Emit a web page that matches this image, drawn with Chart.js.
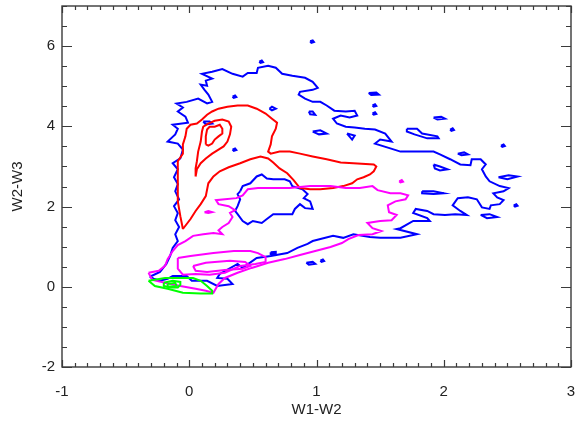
<!DOCTYPE html>
<html>
<head>
<meta charset="utf-8">
<script src="https://cdn.jsdelivr.net/npm/chart.js@4.4.1/dist/chart.umd.min.js"></script>
<style>
  html, body { margin: 0; padding: 0; background: #fff; }
</style>
</head>
<body>
<canvas id="cc" width="576" height="428"></canvas>
<script>
// contour rings in (W1-W2, W2-W3) space, each ring is a closed list of [x, y]
const blueContours = [
  [[-0.31,0.25],[-0.23,0.37],[-0.18,0.57],[-0.15,0.77],[-0.13,0.97],[-0.09,1.14],[-0.11,1.31],[-0.08,1.49],
   [-0.11,1.66],[-0.09,1.84],[-0.12,2.01],[-0.08,2.18],[-0.11,2.38],[-0.09,2.56],[-0.12,2.73],[-0.09,2.93],
   [-0.13,3.08],[-0.07,3.20],[-0.05,3.42],[-0.09,3.57],[-0.17,3.62],[-0.11,3.80],[-0.09,3.94],[-0.13,4.04],
   [-0.01,4.09],[-0.03,4.24],[-0.09,4.37],[-0.05,4.47],[-0.10,4.57],[-0.02,4.61],[0.07,4.69],[0.14,4.57],
   [0.18,4.61],[0.15,4.79],[0.12,4.91],[0.09,5.04],[0.14,5.01],[0.13,5.14],[0.18,5.19],[0.10,5.31],
   [0.18,5.36],[0.26,5.43],[0.34,5.31],[0.42,5.24],[0.46,5.33],[0.53,5.33],[0.54,5.46],[0.62,5.51],
   [0.68,5.46],[0.73,5.31],[0.81,5.26],[0.91,5.21],[0.97,5.11],[1.01,4.96],[0.97,4.91],[0.87,4.86],
   [0.86,4.79],[0.91,4.69],[0.97,4.61],[1.03,4.61],[1.08,4.52],[1.14,4.39],[1.23,4.37],[1.30,4.39],
   [1.32,4.27],[1.26,4.22],[1.19,4.27],[1.13,4.19],[1.16,4.07],[1.23,3.99],[1.30,3.97],[1.38,3.94],
   [1.46,3.92],[1.54,3.82],[1.59,3.62],[1.50,3.67],[1.46,3.57],[1.58,3.45],[1.66,3.37],[1.74,3.37],
   [1.81,3.37],[1.92,3.37],[1.97,3.30],[2.05,3.18],[2.13,3.05],[2.21,3.03],[2.22,3.18],[2.29,3.18],
   [2.33,3.05],[2.30,2.93],[2.33,2.75],[2.36,2.63],[2.44,2.51],[2.51,2.46],[2.47,2.38],[2.39,2.33],
   [2.42,2.23],[2.47,2.16],[2.44,2.06],[2.37,2.03],[2.36,1.94],[2.30,1.98],[2.26,2.18],[2.19,2.23],
   [2.11,2.21],[2.07,2.03],[2.13,1.89],[2.18,1.79],[2.09,1.81],[2.01,1.79],[1.92,1.81],[1.87,1.89],
   [1.78,1.94],[1.76,1.84],[1.87,1.71],[1.89,1.64],[1.76,1.64],[1.66,1.46],[1.63,1.44],[1.79,1.31],
   [1.66,1.22],[1.50,1.22],[1.42,1.24],[1.29,1.31],[1.21,1.22],[1.13,1.27],[0.97,1.14],[0.93,1.07],
   [0.85,0.97],[0.77,0.84],[0.64,0.77],[0.53,0.72],[0.42,0.47],[0.38,0.57],[0.24,0.32],[0.22,0.22],
   [0.30,0.20],[0.34,0.07],[0.22,0.02],[0.14,0.15],[0.02,0.15],[-0.02,0.27],[-0.13,0.27],[-0.17,0.20],
   [-0.23,0.15],[-0.28,0.20]],
  [[0.40,2.38],[0.42,2.51],[0.48,2.58],[0.53,2.75],[0.57,2.80],[0.61,2.70],[0.66,2.68],[0.75,2.68],
   [0.79,2.63],[0.81,2.51],[0.89,2.43],[0.93,2.31],[0.90,2.21],[0.95,2.13],[0.97,1.94],[0.91,1.96],
   [0.87,2.06],[0.83,1.94],[0.81,1.81],[0.71,1.81],[0.66,1.81],[0.61,1.69],[0.57,1.59],[0.50,1.64],
   [0.46,1.56],[0.42,1.64],[0.38,1.81],[0.36,1.89],[0.38,2.01],[0.40,2.18],[0.38,2.31]],
  [[0.95,6.12],[0.97,6.14],[0.98,6.10],[0.96,6.08]],
  [[0.34,4.74],[0.36,4.77],[0.37,4.73],[0.35,4.71]],
  [[0.63,4.44],[0.65,4.49],[0.68,4.44],[0.65,4.40]],
  [[0.11,4.12],[0.16,4.12],[0.18,4.07],[0.13,4.05]],
  [[0.34,3.42],[0.36,3.45],[0.37,3.41],[0.35,3.39]],
  [[0.55,5.61],[0.57,5.64],[0.58,5.60],[0.56,5.58]],
  [[1.41,4.83],[1.47,4.84],[1.49,4.79],[1.43,4.78]],
  [[1.44,4.52],[1.46,4.55],[1.47,4.51],[1.45,4.49]],
  [[1.44,4.32],[1.46,4.35],[1.47,4.31],[1.45,4.29]],
  [[0.94,4.37],[0.97,4.37],[0.99,4.29],[0.95,4.30]],
  [[0.97,3.87],[1.03,3.90],[1.08,3.82],[1.02,3.80]],
  [[1.24,3.82],[1.30,3.77],[1.28,3.67]],
  [[1.92,4.22],[1.98,4.24],[2.01,4.19],[1.95,4.17]],
  [[2.05,3.92],[2.07,3.95],[2.08,3.91],[2.06,3.89]],
  [[2.45,3.52],[2.47,3.55],[2.48,3.51],[2.46,3.49]],
  [[1.71,3.94],[1.79,3.94],[1.83,3.82],[1.95,3.75],[1.96,3.70],[1.87,3.70],[1.77,3.80],[1.71,3.87]],
  [[2.11,3.32],[2.16,3.35],[2.19,3.30],[2.14,3.28]],
  [[1.92,3.05],[1.97,3.00],[2.03,2.93],[1.97,2.90],[1.93,2.95]],
  [[2.43,2.73],[2.51,2.78],[2.58,2.75],[2.50,2.68]],
  [[1.83,2.38],[1.92,2.38],[2.00,2.33],[1.92,2.31],[1.83,2.33]],
  [[2.55,2.03],[2.57,2.06],[2.58,2.02],[2.56,2.00]],
  [[2.29,1.79],[2.36,1.81],[2.42,1.74],[2.34,1.71]],
  [[0.64,0.86],[0.68,0.87],[0.68,0.82],[0.64,0.82]],
  [[0.92,0.60],[0.97,0.62],[0.99,0.57],[0.94,0.55]],
  [[1.03,0.65],[1.05,0.68],[1.06,0.64],[1.04,0.62]]
];

const redContours = [
  [[-0.05,1.44],[-0.07,1.76],[-0.09,2.13],[-0.09,2.51],[-0.09,2.88],[-0.09,3.13],[-0.05,3.32],[-0.05,3.55],
   [-0.03,3.75],[-0.02,3.94],[0.01,4.04],[0.06,4.07],[0.10,4.17],[0.14,4.29],[0.18,4.37],[0.23,4.44],
   [0.30,4.49],[0.38,4.52],[0.46,4.52],[0.53,4.44],[0.60,4.32],[0.65,4.19],[0.69,4.09],[0.68,3.94],
   [0.65,3.75],[0.64,3.55],[0.62,3.37],[0.64,3.32],[0.71,3.37],[0.79,3.37],[0.87,3.32],[0.97,3.25],
   [1.08,3.18],[1.19,3.10],[1.29,3.08],[1.45,3.05],[1.47,3.00],[1.45,2.88],[1.42,2.80],[1.37,2.73],
   [1.32,2.68],[1.28,2.58],[1.21,2.51],[1.13,2.46],[1.03,2.43],[0.95,2.43],[0.87,2.46],[0.82,2.66],
   [0.77,2.83],[0.71,2.95],[0.66,3.10],[0.62,3.20],[0.56,3.25],[0.48,3.18],[0.40,3.08],[0.31,2.98],
   [0.24,2.88],[0.19,2.75],[0.15,2.58],[0.13,2.26],[0.09,2.06],[0.05,1.89],[0.01,1.69]],
  [[0.05,2.75],[0.05,2.95],[0.06,3.13],[0.07,3.37],[0.09,3.62],[0.10,3.87],[0.11,3.99],[0.15,4.07],
   [0.20,4.14],[0.26,4.17],[0.31,4.12],[0.33,3.99],[0.32,3.80],[0.30,3.62],[0.27,3.50],[0.23,3.42],
   [0.18,3.32],[0.13,3.20],[0.09,3.08],[0.06,2.93]],
  [[0.13,3.55],[0.13,3.75],[0.14,3.92],[0.16,3.99],[0.20,3.99],[0.24,4.04],[0.26,3.94],[0.26,3.82],
   [0.23,3.75],[0.20,3.67],[0.18,3.57],[0.15,3.52]]
];

const magentaContours = [
  [[-0.32,0.35],[-0.24,0.40],[-0.19,0.52],[-0.17,0.69],[-0.13,0.89],[-0.09,1.04],[-0.03,1.14],[0.03,1.27],
   [0.11,1.31],[0.19,1.34],[0.26,1.31],[0.23,1.41],[0.26,1.49],[0.31,1.59],[0.34,1.74],[0.32,1.84],
   [0.36,1.91],[0.31,2.01],[0.23,2.06],[0.21,2.16],[0.28,2.18],[0.37,2.21],[0.42,2.28],[0.46,2.43],
   [0.54,2.46],[0.68,2.46],[0.79,2.46],[0.95,2.51],[1.11,2.51],[1.23,2.46],[1.34,2.46],[1.44,2.51],
   [1.48,2.41],[1.58,2.33],[1.66,2.33],[1.72,2.28],[1.70,2.18],[1.62,2.13],[1.56,2.03],[1.57,1.86],
   [1.63,1.79],[1.59,1.66],[1.50,1.64],[1.40,1.59],[1.44,1.46],[1.51,1.39],[1.44,1.31],[1.33,1.29],
   [1.25,1.19],[1.20,1.09],[1.11,0.99],[0.99,0.89],[0.87,0.79],[0.75,0.69],[0.62,0.60],[0.49,0.47],
   [0.38,0.35],[0.28,0.22],[0.23,0.07],[0.19,-0.15],[0.13,-0.10],[0.05,-0.05],[-0.07,0.02],[-0.19,0.10],
   [-0.29,0.17]],
  [[-0.09,0.72],[0.01,0.77],[0.19,0.84],[0.35,0.89],[0.48,0.89],[0.54,0.84],[0.60,0.74],[0.60,0.62],
   [0.52,0.57],[0.40,0.52],[0.28,0.35],[0.16,0.30],[0.05,0.32],[-0.05,0.30],[-0.09,0.45]],
  [[0.03,0.52],[0.13,0.60],[0.20,0.62],[0.32,0.65],[0.44,0.62],[0.48,0.52],[0.42,0.45],[0.28,0.42],
   [0.14,0.37],[0.05,0.40]],
  [[0.12,1.86],[0.15,1.89],[0.18,1.86],[0.15,1.84]],
  [[1.65,2.63],[1.67,2.66],[1.68,2.62],[1.66,2.60]]
];

const greenContours = [
  [[-0.32,0.15],[-0.19,0.22],[-0.05,0.22],[0.03,0.22],[0.09,0.15],[0.14,0.02],[0.18,-0.10],[0.18,-0.17],
   [0.09,-0.17],[-0.05,-0.15],[-0.17,-0.05],[-0.27,0.02]],
  [[-0.20,0.10],[-0.13,0.15],[-0.07,0.12],[-0.07,0.05],[-0.09,-0.02],[-0.15,-0.02],[-0.20,0.02]],
  [[-0.17,0.07],[-0.11,0.10],[-0.10,0.02],[-0.17,0.00]]
];

const xTickLabels = [-1, 0, 1, 2, 3];
const yTickLabels = [-2, 0, 2, 4, 6];

const axisColor = '#3a3a3a';
const textColor = '#222';
const fontFamily = "'Liberation Sans', Arial, Helvetica, sans-serif";

function ringDatasets(rings, color, order) {
  return rings.map(ring => ({
    data: ring.concat([ring[0]]).map(p => ({ x: p[0], y: p[1] })),
    showLine: true,
    borderColor: color,
    borderWidth: 2,
    pointRadius: 0,
    fill: false,
    tension: 0,
    order: order
  }));
}

// fixed axis boxes, no extra room reserved for label overhang
function fixBox(size, horizontal) {
  return s => {
    if (horizontal) s.height = size; else s.width = size;
    s.paddingLeft = s.paddingRight = s.paddingTop = s.paddingBottom = 0;
  };
}

// IDL-style frame with inward ticks on all four sides
const frameTicks = {
  id: 'frameTicks',
  afterDatasetsDraw(chart) {
    const { ctx, chartArea: a, scales: { x, y } } = chart;
    ctx.save();
    ctx.strokeStyle = axisColor;
    ctx.lineWidth = 1.4;
    ctx.strokeRect(a.left, a.top, a.right - a.left, a.bottom - a.top);
    ctx.beginPath();
    for (let i = 0; i <= 40; i++) {
      const px = Math.round(x.getPixelForValue(-1 + i * 0.1)) + 0.5;
      const len = i % 10 === 0 ? 7 : 4;
      ctx.moveTo(px, a.bottom); ctx.lineTo(px, a.bottom - len);
      ctx.moveTo(px, a.top); ctx.lineTo(px, a.top + len);
    }
    for (let i = 0; i <= 18; i++) {
      const py = Math.round(y.getPixelForValue(-2 + i * 0.5)) + 0.5;
      const len = i % 4 === 0 ? 10 : 5;
      ctx.moveTo(a.left, py); ctx.lineTo(a.left + len, py);
      ctx.moveTo(a.right, py); ctx.lineTo(a.right - len, py);
    }
    ctx.lineWidth = 1.2;
    ctx.stroke();
    ctx.restore();
  }
};

new Chart(document.getElementById('cc'), {
  type: 'scatter',
  data: {
    datasets: [
      ...ringDatasets(blueContours, '#0000ff', 4),
      ...ringDatasets(redContours, '#ff0000', 3),
      ...ringDatasets(magentaContours, '#ff00ff', 2),
      ...ringDatasets(greenContours, '#00ff00', 1)
    ]
  },
  options: {
    responsive: false,
    animation: false,
    layout: { padding: { top: 6, right: 5, left: 0, bottom: 0 } },
    plugins: { legend: { display: false }, tooltip: { enabled: false } },
    scales: {
      x: {
        type: 'linear',
        min: -1,
        max: 3,
        grid: { display: false, drawTicks: false },
        border: { display: false },
        afterBuildTicks: s => { s.ticks = xTickLabels.map(v => ({ value: v })); },
        afterFit: fixBox(61, true),
        ticks: { color: textColor, padding: 16, maxRotation: 0, font: { family: fontFamily, size: 15 } },
        title: { display: true, text: 'W1-W2', color: textColor, padding: { top: 0, bottom: 9 },
                 font: { family: fontFamily, size: 15 } }
      },
      y: {
        type: 'linear',
        min: -2,
        max: 7,
        grid: { display: false, drawTicks: false },
        border: { display: false },
        afterBuildTicks: s => { s.ticks = yTickLabels.map(v => ({ value: v })); },
        afterFit: fixBox(62, false),
        ticks: { color: textColor, padding: 7, font: { family: fontFamily, size: 15 } },
        title: { display: true, text: 'W2-W3', color: textColor, padding: { top: 9, bottom: 0 },
                 font: { family: fontFamily, size: 15 } }
      }
    }
  },
  plugins: [frameTicks]
});
</script>
</body>
</html>
